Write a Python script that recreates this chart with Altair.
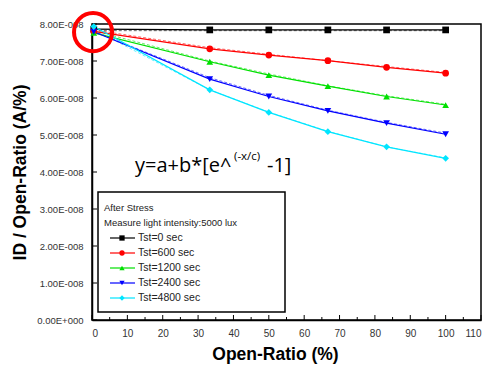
import altair as alt
import pandas as pd

# ---------------- data (values in units of 1E-008 A/%) ----------------
series_names = ["Tst=0 sec", "Tst=600 sec", "Tst=1200 sec", "Tst=2400 sec", "Tst=4800 sec"]
colors = ["#000000", "#ff0000", "#00e000", "#0000ff", "#00e5ff"]
shapes = ["square", "circle", "triangle-up", "triangle-down", "diamond"]

open_ratio = [0.5, 33.3, 50, 66.7, 83.3, 100]
tst0 = [7.86, 7.84, 7.84, 7.84, 7.84, 7.84]
tst600 = [7.80, 7.33, 7.16, 7.01, 6.83, 6.67]
tst1200 = [7.76, 6.98, 6.62, 6.32, 6.04, 5.81]
tst2400 = [7.79, 6.51, 6.04, 5.65, 5.32, 5.02]
tst4800 = [7.93, 6.22, 5.61, 5.09, 4.68, 4.37]

# dashed fit curves
fit_x = [0.5, 33.3, 50, 66.7, 83.3, 100]
fit0 = [7.82, 7.82, 7.82, 7.82, 7.82, 7.82]
fit600 = [7.84, 7.36, 7.18, 7.01, 6.85, 6.69]
fit1200 = [7.82, 7.00, 6.65, 6.33, 6.06, 5.83]
fit2400 = [7.80, 6.55, 6.07, 5.67, 5.34, 5.05]
fit4800 = [7.85, 6.22, 5.62, 5.10, 4.68, 4.38]

x_ticks = [0, 10, 20, 30, 40, 50, 60, 70, 80, 90, 100, 110]
x_minor = [5, 15, 25, 35, 45, 55, 65, 75, 85, 95, 105]
y_ticks = [0, 1, 2, 3, 4, 5, 6, 7, 8]

legend_header = ["After Stress", "Measure light intensity:5000 lux"]
highlight_x = [0.3]
highlight_y = [7.78]

E = 1e-8
rows = []
for name, vals in zip(series_names, [tst0, tst600, tst1200, tst2400, tst4800]):
    for xv, yv in zip(open_ratio, vals):
        rows.append({"series": name, "x": xv, "y": yv * E})
df = pd.DataFrame(rows)

frows = []
for name, vals in zip(series_names, [fit0, fit600, fit1200, fit2400, fit4800]):
    for xv, yv in zip(fit_x, vals):
        frows.append({"series": name, "x": xv, "y": yv * E})
dff = pd.DataFrame(frows)

W, H = 389, 296
xscale = alt.Scale(domain=[0, 110], nice=False, zero=False)
yscale = alt.Scale(domain=[0, 8 * E], nice=False, zero=False)
cscale = alt.Scale(domain=series_names, range=colors)
sscale = alt.Scale(domain=series_names, range=shapes)

lab_font = "Liberation Sans"

xaxis = alt.Axis(values=x_ticks, tickSize=0, labelPadding=8, labelFontSize=10,
                 labelColor="#333333", labelFont=lab_font, grid=False,
                 title="Open-Ratio (%)", titleFont=lab_font, titleFontSize=17.5,
                 titleFontWeight="bold", titlePadding=7, titleX=183, domainColor="#000000",
                 domainWidth=1.5)
yaxis = alt.Axis(values=[v * E for v in y_ticks], tickSize=0, labelPadding=9,
                 labelFontSize=9.5, labelColor="#333333", labelFont=lab_font, grid=False,
                 labelExpr="datum.value == 0 ? '0.00E+000' : format(datum.value*1e8, '.2f') + 'E-008'",
                 title="ID / Open-Ratio (A/%)", titleFont=lab_font, titleFontSize=17.5,
                 titleFontWeight="bold", titlePadding=7, domainColor="#000000",
                 domainWidth=1.5)

X = alt.X("x:Q", scale=xscale, axis=xaxis)
Y = alt.Y("y:Q", scale=yscale, axis=yaxis)
C = alt.Color("series:N", scale=cscale, legend=None)
S = alt.Shape("series:N", scale=sscale, legend=None)

fit = alt.Chart(dff).mark_line(strokeDash=[3, 2], strokeWidth=1, opacity=0.6).encode(
    x=X, y=Y, color=C, detail="series:N")
lines = alt.Chart(df).mark_line(strokeWidth=1.2).encode(x=X, y=Y, color=C, detail="series:N")
pts = alt.Chart(df).mark_point(filled=True, size=45, opacity=1).encode(x=X, y=Y, color=C, shape=S)

# inward ticks
xt = pd.DataFrame({"x": x_ticks})
xm = pd.DataFrame({"x": x_minor})
yt = pd.DataFrame({"y": [v * E for v in y_ticks]})
xtick_major = alt.Chart(xt).mark_rule(color="#000", strokeWidth=1).encode(
    x=alt.X("x:Q", scale=xscale, axis=xaxis), y=alt.value(H), y2=alt.value(H - 5))
xtick_minor = alt.Chart(xm).mark_rule(color="#000", strokeWidth=1).encode(
    x=alt.X("x:Q", scale=xscale, axis=xaxis), y=alt.value(H), y2=alt.value(H - 3))
ytick_major = alt.Chart(yt).mark_rule(color="#000", strokeWidth=1).encode(
    y=alt.Y("y:Q", scale=yscale, axis=yaxis), x=alt.value(0), x2=alt.value(5))

# equation text
one = pd.DataFrame({"a": [0]})
eq1 = alt.Chart(one).mark_text(text="y=a+b*[e^", align="left", baseline="alphabetic",
                               font="Open Sans", fontSize=20, color="#000").encode(
    x=alt.value(43), y=alt.value(148))
eq2 = alt.Chart(one).mark_text(text="(-x/c)", align="left", baseline="alphabetic",
                               font="Open Sans", fontSize=11.5, color="#000").encode(
    x=alt.value(142), y=alt.value(136))
eq3 = alt.Chart(one).mark_text(text="-1]", align="left", baseline="alphabetic",
                               font="Open Sans", fontSize=20, color="#000").encode(
    x=alt.value(175), y=alt.value(148))

# legend box
leg_box = alt.Chart(one).mark_rect(fill="white", stroke="#000", strokeWidth=1.5).encode(
    x=alt.value(6), x2=alt.value(193), y=alt.value(168), y2=alt.value(288))
hdr = pd.DataFrame({"t": legend_header, "i": list(range(len(legend_header)))})
hdr["py"] = 184 + 15 * hdr["i"]
leg_hdr = alt.Chart(hdr).mark_text(align="left", baseline="middle", font=lab_font,
                                   fontSize=9.5, color="#222").encode(
    x=alt.value(12), y=alt.Y("py:Q", scale=None), text="t:N")
ent = pd.DataFrame({"series": series_names, "i": list(range(len(series_names)))})
ent["py"] = 214 + 15 * ent["i"]
leg_line = alt.Chart(ent).mark_rule(strokeWidth=1.2).encode(
    x=alt.value(18), x2=alt.value(43), y=alt.Y("py:Q", scale=None), color=C)
leg_pt = alt.Chart(ent).mark_point(filled=True, size=28, opacity=1).encode(
    x=alt.value(30), y=alt.Y("py:Q", scale=None), color=C, shape=S)
leg_txt = alt.Chart(ent).mark_text(align="left", baseline="middle", font=lab_font,
                                   fontSize=10.5, color="#222").encode(
    x=alt.value(46), y=alt.Y("py:Q", scale=None), text="series:N")

# highlight circle
hl = pd.DataFrame({"x": highlight_x, "y": [v * E for v in highlight_y]})
circle = alt.Chart(hl).mark_point(shape="circle", size=1450, filled=False, stroke="#ff0000",
                                  strokeWidth=4, clip=False, opacity=1).encode(
    x=alt.X("x:Q", scale=xscale, axis=xaxis), y=alt.Y("y:Q", scale=yscale, axis=yaxis))

chart = alt.layer(
    xtick_major, xtick_minor, ytick_major,
    fit, lines, pts,
    eq1, eq2, eq3,
    leg_box, leg_hdr, leg_line, leg_pt, leg_txt,
    circle,
).properties(
    width=W, height=H,
    autosize=alt.AutoSizeParams(type="none"),
    padding={"left": 92, "top": 24, "right": 7, "bottom": 45},
    background="white",
).configure_view(stroke="#000", strokeWidth=1.5)

chart.save("out.html", embed_options={"renderer": "svg", "actions": False})
